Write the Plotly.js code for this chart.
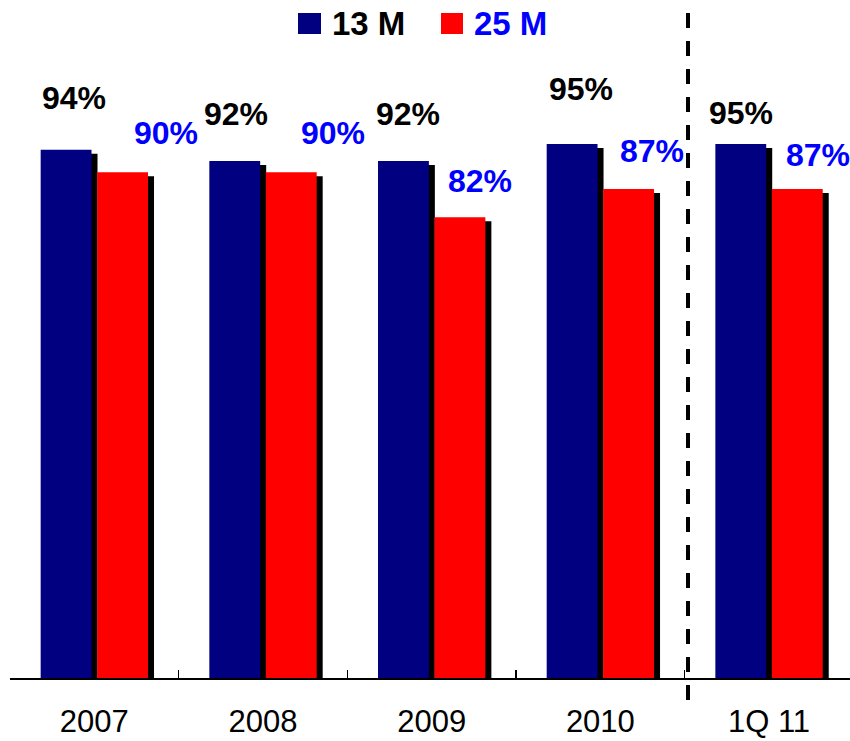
<!DOCTYPE html>
<html>
<head>
<meta charset="utf-8">
<script src="https://cdn.plot.ly/plotly-3.0.1.min.js"></script>
<style>
  html, body { margin: 0; padding: 0; background: #ffffff; }
  #chart { width: 850px; height: 741px; }
</style>
</head>
<body>
<div id="chart"></div>
<script>
// Periods on the category axis
const periods = ['2007', '2008', '2009', '2010', '1Q 11'];

// Series names and values (percent)
const seriesNames = ['13 M', '25 M'];
const values13M = [94, 92, 92, 95, 95];
const values25M = [90, 90, 82, 87, 87];

// Styling
const FONT = 'Liberation Sans, Arial, Helvetica, sans-serif';
const barColors = ['#000080', '#ff0000'];
const labelColors = ['#000000', '#0000ff'];
const shadowColor = '#000000';

// Page geometry
const W = 850, H = 741;
const M = { l: 10, r: 0, t: 116, b: 63 };
const plotW = W - M.l - M.r;
const plotH = H - M.t - M.b;
const xRange = [-0.5, periods.length - 0.52];
const yRange = [0, 100];
const pxPerCat = plotW / (xRange[1] - xRange[0]);
const pxPerUnit = plotH / (yRange[1] - yRange[0]);

// Drop shadow offset in pixels (right, down)
const shadowDx = 6, shadowDy = 4;

// Label offsets relative to each bar top (pixels)
const labelShift = [
  { dx: [8, 1, 5, 9, 0],       dy: [52, 47, 47, 55, 31] },
  { dx: [43, 42, 20, 23, 21],  dy: [39, 39, 36, 38, 34] }
];

const bargap = 0.33, bargroupgap = 0.1;
const slotPx = pxPerCat * (1 - bargap) / 2;

const series = [values13M, values25M];

// Shadow bars live on the base axes, whose ranges are shifted so the
// same values land a few pixels right and lower than the main bars.
const traces = [];
series.forEach((vals, i) => {
  traces.push({
    type: 'bar', x: periods, y: vals, xaxis: 'x', yaxis: 'y',
    marker: { color: shadowColor, line: { width: 0 } },
    showlegend: false, hoverinfo: 'skip'
  });
});
series.forEach((vals, i) => {
  traces.push({
    type: 'bar', name: seriesNames[i], x: periods, y: vals,
    xaxis: 'x2', yaxis: 'y2',
    marker: { color: barColors[i], line: { width: 0 } },
    showlegend: false
  });
});

// Value labels
const annotations = [];
series.forEach((vals, i) => {
  const slotOffset = (i === 0 ? -0.5 : 0.5) * slotPx;
  vals.forEach((v, j) => {
    annotations.push({
      xref: 'x2', yref: 'y2', x: j, y: v,
      text: v + '%', showarrow: false,
      xanchor: 'center', yanchor: 'middle',
      xshift: slotOffset + labelShift[i].dx[j],
      yshift: labelShift[i].dy[j],
      font: { family: FONT, size: 32, color: labelColors[i], weight: 'bold' }
    });
  });
});

// Pixel helpers for paper coordinates
const px2x = px => (px - M.l) / plotW;
const px2y = py => (H - M.b - py) / plotH;

// Legend drawn as coloured squares with bold labels
const legendItems = [
  { sq: [298, 321], textX: 330 },
  { sq: [441, 463], textX: 472 }
];
const shapes = [];
legendItems.forEach((it, i) => {
  shapes.push({
    type: 'rect', xref: 'paper', yref: 'paper',
    x0: px2x(it.sq[0]), x1: px2x(it.sq[1]),
    y0: px2y(34), y1: px2y(13),
    fillcolor: barColors[i], line: { width: 0 }
  });
  annotations.push({
    xref: 'paper', yref: 'paper', x: px2x(it.textX), y: px2y(23),
    text: seriesNames[i], showarrow: false,
    xanchor: 'left', yanchor: 'middle',
    font: { family: FONT, size: 33, color: labelColors[i], weight: 'bold' }
  });
});

// Dashed separator before the quarterly period
shapes.push({
  type: 'line', xref: 'paper', yref: 'paper',
  x0: px2x(688), x1: px2x(688), y0: px2y(13), y1: px2y(702),
  line: { color: '#000000', width: 4, dash: '15px,13px' }
});

const layout = {
  width: W, height: H,
  margin: M,
  paper_bgcolor: '#ffffff', plot_bgcolor: 'rgba(0,0,0,0)',
  barmode: 'group', bargap: bargap, bargroupgap: bargroupgap,
  showlegend: false,
  font: { family: FONT, color: '#000000' },
  xaxis: {
    type: 'category', visible: false,
    range: [xRange[0] - shadowDx / pxPerCat, xRange[1] - shadowDx / pxPerCat]
  },
  yaxis: {
    visible: false,
    range: [yRange[0] + shadowDy / pxPerUnit, yRange[1] + shadowDy / pxPerUnit]
  },
  xaxis2: {
    type: 'category', overlaying: 'x', anchor: 'y2',
    range: xRange,
    showline: true, linecolor: '#000000', linewidth: 2,
    ticks: 'inside', tickson: 'boundaries', ticklen: 8, tickwidth: 1.5, tickcolor: '#000000',
    showgrid: false, zeroline: false,
    tickfont: { family: FONT, size: 31, color: '#000000' },
    ticklabelstandoff: 15
  },
  yaxis2: {
    overlaying: 'y', anchor: 'x2', range: yRange,
    visible: false, showgrid: false, zeroline: false
  },
  shapes: shapes,
  annotations: annotations
};

Plotly.newPlot('chart', traces, layout, { displayModeBar: false, staticPlot: true });
</script>
</body>
</html>
